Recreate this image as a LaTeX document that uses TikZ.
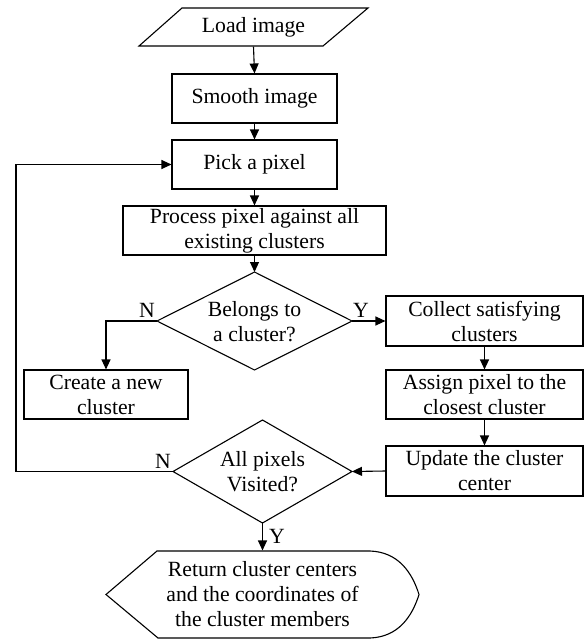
\documentclass[tikz,border=0pt]{standalone}
\usepackage{fontspec}
\setmainfont{Liberation Serif}
\usetikzlibrary{arrows.meta}
\begin{document}
\begin{tikzpicture}[x=1pt,y=-1pt, line width=1.1pt,
  box/.style={draw, rectangle, inner sep=0pt, align=center, font=\fontsize{21.7}{25}\selectfont},
  txt/.style={inner sep=0pt, align=center, font=\fontsize{21.7}{25}\selectfont},
  arr/.style={-{Triangle[length=10pt,width=9pt]}},
  lbl/.style={inner sep=0pt, font=\fontsize{21.7}{25}\selectfont}]
\useasboundingbox (0,0) rectangle (586,640);

% Load image (parallelogram)
\node[txt, minimum width=186pt, minimum height=38pt] (load) at (253.5,27) {Load image};
\draw (182,8) -- (368,8) -- (323,46) -- (139,46) -- cycle;

\node[box, minimum width=165pt, minimum height=49pt] (smooth) at (254.5,98.5) {Smooth image};
\node[box, minimum width=165pt, minimum height=49pt] (pick) at (254.5,164.5) {Pick a pixel};
\node[box, minimum width=263pt, minimum height=49pt] (process) at (254.5,230.5) {Process pixel against all\\existing clusters};

% Diamond 1
\coordinate (d1t) at (254.5,272);
\coordinate (d1r) at (352,321);
\coordinate (d1b) at (254.5,370);
\coordinate (d1l) at (157,321);
\draw (d1t) -- (d1r) -- (d1b) -- (d1l) -- cycle;
\node[txt] (d1) at (254.5,322) {Belongs to\\a cluster?};

\node[box, minimum width=197pt, minimum height=50pt] (collect) at (484.5,321) {Collect satisfying\\clusters};
\node[box, minimum width=164pt, minimum height=49pt] (create) at (106,394.5) {Create a new\\cluster};
\node[box, minimum width=197pt, minimum height=49pt] (assign) at (484.5,394.5) {Assign pixel to the\\closest cluster};
\node[box, minimum width=197pt, minimum height=50pt] (update) at (484.5,471) {Update the cluster\\center};

% Diamond 2
\coordinate (d2t) at (262.5,420);
\coordinate (d2r) at (352,471.5);
\coordinate (d2b) at (262.5,523);
\coordinate (d2l) at (173,471.5);
\draw (d2t) -- (d2r) -- (d2b) -- (d2l) -- cycle;
\node[txt] (d2) at (262.5,472) {All pixels\\Visited?};

% Return (display shape)
\node[txt, minimum width=200pt, minimum height=87pt] (ret) at (262.5,594.5) {Return cluster centers\\and the coordinates of\\the cluster members};
\draw (157,551) -- (370,551) .. controls (398,552) and (412,572) .. (419,594.5)
      .. controls (412,617) and (398,637) .. (370,638) -- (158,638) -- (106,594.5) -- cycle;

% Labels
\node[lbl] (n1) at (147,310) {N};
\node[lbl] (y1) at (361,310) {Y};
\node[lbl] (n2) at (163,461) {N};
\node[lbl] (y2) at (277,536) {Y};

% Connectors
\draw[arr] (load.south) -- (smooth.north);
\draw[arr] (smooth) -- (pick);
\draw[arr] (pick) -- (process);
\draw[arr] (process.south) -- (d1t);
\draw[arr] (d1l) -| (create.north);
\draw[arr] (d1r) -- (collect.west);
\draw[arr] (collect) -- (assign);
\draw[arr] (assign) -- (update);
\draw[arr] (update.west) -- (d2r);
\coordinate (loop) at (16,471.5);
\draw[arr] (d2l) -- (loop) |- (pick.west);
\draw[arr] (d2b) -- (ret.north);
\end{tikzpicture}
\end{document}
